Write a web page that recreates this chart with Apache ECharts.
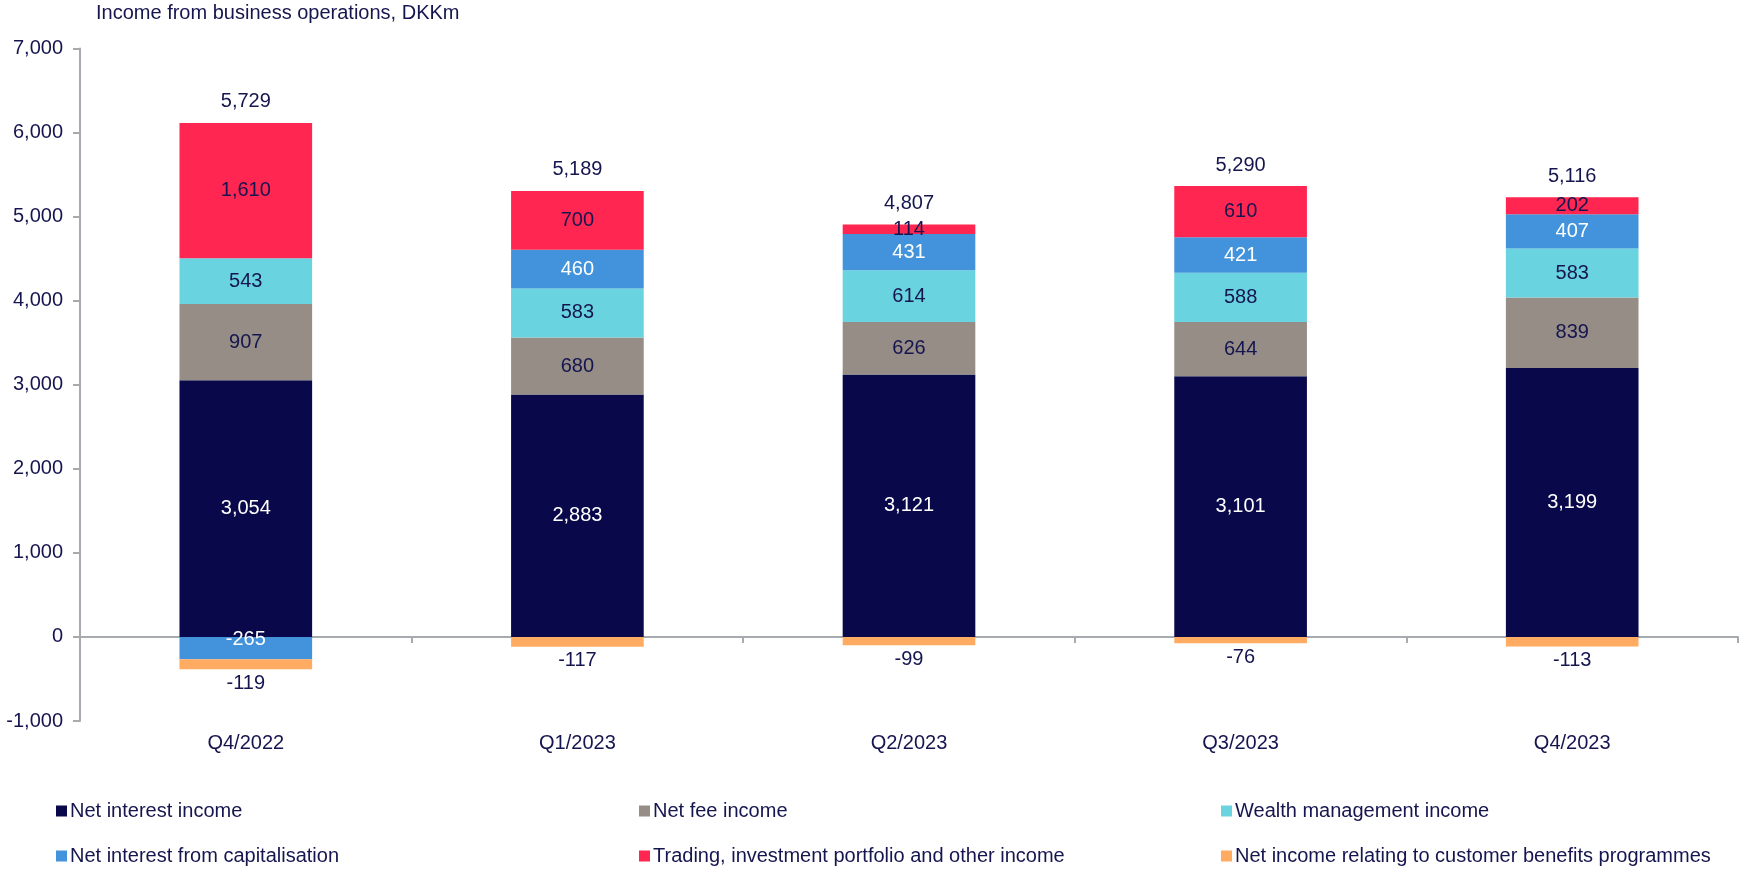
<!DOCTYPE html>
<html>
<head>
<meta charset="utf-8">
<title>Income from business operations</title>
<script src="https://cdn.jsdelivr.net/npm/echarts@6/dist/echarts.min.js"></script>
<style>
  html, body { margin: 0; padding: 0; background: #ffffff; }
  #chart { width: 1739px; height: 870px; }
</style>
</head>
<body>
<div id="chart"></div>
<script>
// Quarterly income from business operations, DKKm
const categories = ['Q4/2022', 'Q1/2023', 'Q2/2023', 'Q3/2023', 'Q4/2023'];
const netInterestIncome = [3054, 2883, 3121, 3101, 3199];
const netFeeIncome = [907, 680, 626, 644, 839];
const wealthManagementIncome = [543, 583, 614, 588, 583];
const netInterestFromCapitalisation = [-265, 460, 431, 421, 407];
const tradingOtherIncome = [1610, 700, 114, 610, 202];
const customerBenefitsIncome = [-119, -117, -99, -76, -113];
const totals = [5729, 5189, 4807, 5290, 5116];

const seriesNames = [
  'Net interest income',
  'Net fee income',
  'Wealth management income',
  'Net interest from capitalisation',
  'Trading, investment portfolio and other income',
  'Net income relating to customer benefits programmes'
];

const NAVY = '#15154f';
const AXIS_GREY = '#a7abaf';
const FONT = '"Liberation Sans", Arial, sans-serif';

const fmt = v => Number(v).toLocaleString('en-US');

const colors = ['#08084a', '#958d86', '#69d3df', '#4293dc', '#ff2651', '#ffac62'];
const values = [
  netInterestIncome,
  netFeeIncome,
  wealthManagementIncome,
  netInterestFromCapitalisation,
  tradingOtherIncome,
  customerBenefitsIncome
];
const labelColors = ['#ffffff', NAVY, NAVY, '#ffffff', NAVY, NAVY];

// Top of the positive part of each stacked column, used to place the total label
const positiveTops = categories.map((_, i) =>
  values.reduce((s, arr) => s + (arr[i] > 0 ? arr[i] : 0), 0)
);

const barSeries = values.map((arr, k) => {
  const isCustomer = k === 5;
  const isCapitalisation = k === 3;
  return {
    name: seriesNames[k],
    type: 'bar',
    stack: 'income',
    barWidth: '40%',
    itemStyle: { color: colors[k] },
    label: {
      show: true,
      position: isCustomer ? 'bottom' : 'inside',
      distance: isCustomer ? 4 : 5,
      color: isCustomer ? NAVY : labelColors[k],
      fontSize: 20,
      fontFamily: FONT,
      formatter: p => fmt(p.value)
    },
    data: arr.map(v => {
      if (isCapitalisation && v < 0) {
        return { value: v, label: { offset: [0, -9] } };
      }
      return v;
    })
  };
});

const totalSeries = {
  name: 'Total',
  type: 'scatter',
  symbolSize: 0,
  itemStyle: { color: 'transparent', opacity: 1 },
  silent: true,
  label: {
    show: true,
    position: 'top',
    distance: 11,
    color: NAVY,
    fontSize: 20,
    fontFamily: FONT,
    formatter: p => fmt(totals[p.dataIndex])
  },
  data: positiveTops.map((y, i) => [categories[i], y]),
  z: 5
};

// One legend block per entry, laid out as a 3 x 2 grid
const legendSlots = [
  { left: 56, top: 800 },
  { left: 639, top: 800 },
  { left: 1221, top: 800 },
  { left: 56, top: 845 },
  { left: 639, top: 845 },
  { left: 1221, top: 845 }
];
const legends = seriesNames.map((name, k) => ({
  data: [name],
  left: legendSlots[k].left,
  top: legendSlots[k].top,
  padding: 0,
  itemWidth: 11,
  itemHeight: 11,
  icon: 'rect',
  selectedMode: false,
  textStyle: { color: NAVY, fontSize: 20, fontFamily: FONT, lineHeight: 22, padding: [0, 0, 0, -2] }
}));

const chart = echarts.init(document.getElementById('chart'), null, { renderer: 'canvas' });
chart.setOption({
  animation: false,
  backgroundColor: '#ffffff',
  title: {
    text: 'Income from business operations, DKKm',
    left: 96,
    top: 2,
    padding: 0,
    textStyle: { color: NAVY, fontSize: 20, fontWeight: 'normal', fontFamily: FONT, lineHeight: 22 }
  },
  legend: legends,
  grid: { left: 80, right: 1, top: 48.5, bottom: 149, containLabel: false },
  xAxis: {
    type: 'category',
    data: categories,
    axisLine: { onZero: true, lineStyle: { color: AXIS_GREY, width: 2 } },
    axisTick: { show: true, length: 6, alignWithLabel: false, lineStyle: { color: AXIS_GREY, width: 2 } },
    axisLabel: { margin: 12, color: NAVY, fontSize: 20, fontFamily: FONT },
    splitLine: { show: false }
  },
  yAxis: {
    type: 'value',
    min: -1000,
    max: 7000,
    interval: 1000,
    axisLine: { show: true, lineStyle: { color: AXIS_GREY, width: 2 } },
    axisTick: { show: true, length: 7, lineStyle: { color: AXIS_GREY, width: 2 } },
    axisLabel: { margin: 17, color: NAVY, fontSize: 20, fontFamily: FONT, formatter: v => fmt(v) },
    splitLine: { show: false }
  },
  series: barSeries.concat([totalSeries])
});
</script>
</body>
</html>
